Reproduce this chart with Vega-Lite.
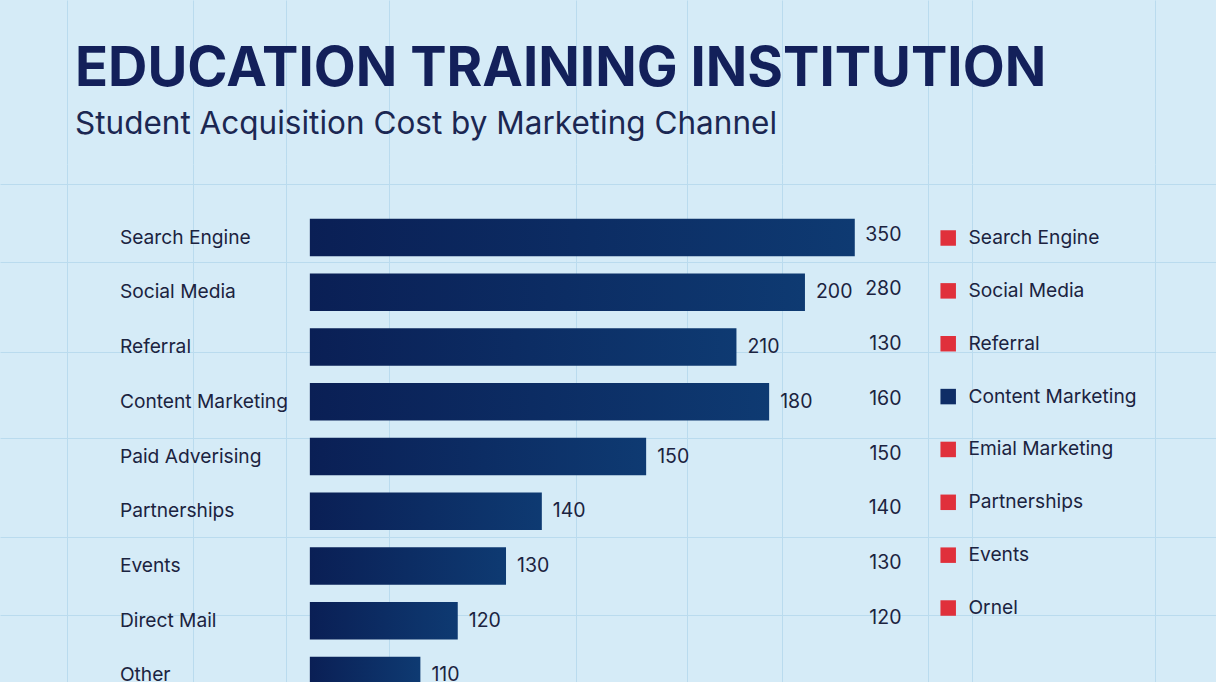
{
  "$schema": "https://vega.github.io/schema/vega-lite/v6.json",
  "width": 1216,
  "height": 585,
  "autosize": "none",
  "padding": {"left": 0, "top": 164, "right": 0, "bottom": 0},
  "background": "#d5ebf7",
  "config": {"view": {"stroke": null}, "font": "Inter"},
  "title": {
    "text": "EDUCATION TRAINING INSTITUTION",
    "subtitle": "Student Acquisition Cost by Marketing Channel",
    "anchor": "start",
    "dx": 75,
    "dy": 142,
    "offset": 0,
    "font": "Inter",
    "fontSize": 54.5,
    "fontWeight": "bold",
    "color": "#13205a",
    "subtitleFont": "Inter",
    "subtitleFontSize": 31.5,
    "subtitleColor": "#1b2752",
    "subtitlePadding": 12
  },
  "datasets": {
    "bars": [
      {"channel": "Search Engine", "length": 350, "label": null, "col": "350"},
      {"channel": "Social Media", "length": 318, "label": "200", "col": "280"},
      {"channel": "Referral", "length": 274, "label": "210", "col": "130"},
      {"channel": "Content Marketing", "length": 295, "label": "180", "col": "160"},
      {"channel": "Paid Adverising", "length": 216, "label": "150", "col": "150"},
      {"channel": "Partnerships", "length": 149, "label": "140", "col": "140"},
      {"channel": "Events", "length": 126, "label": "130", "col": "130"},
      {"channel": "Direct Mail", "length": 95, "label": "120", "col": "120"},
      {"channel": "Other", "length": 71, "label": "110", "col": null}
    ],
    "legend": [
      {"rank": 1, "entry": "Search Engine", "kind": "accent"},
      {"rank": 2, "entry": "Social Media", "kind": "accent"},
      {"rank": 3, "entry": "Referral", "kind": "accent"},
      {"rank": 4, "entry": "Content Marketing", "kind": "primary"},
      {"rank": 5, "entry": "Emial Marketing", "kind": "accent"},
      {"rank": 6, "entry": "Partnerships", "kind": "accent"},
      {"rank": 7, "entry": "Events", "kind": "accent"},
      {"rank": 8, "entry": "Ornel", "kind": "accent"}
    ]
  },
  "resolve": {"scale": {"y": "independent"}},
  "layer": [
    {
      "data": {"name": "bars"},
      "encoding": {
        "y": {
          "field": "channel",
          "type": "nominal",
          "sort": null,
          "axis": null,
          "scale": {"paddingInner": 0.314, "paddingOuter": 1, "round": false}
        }
      },
      "layer": [
        {
          "mark": {
            "type": "bar",
            "color": {
              "gradient": "linear",
              "x1": 0, "x2": 1, "y1": 0, "y2": 0,
              "stops": [
                {"offset": 0, "color": "#0a1f55"},
                {"offset": 1, "color": "#0e3a72"}
              ]
            }
          },
          "encoding": {
            "x": {
              "field": "length",
              "type": "quantitative",
              "scale": {"domain": [-199, 582], "nice": false, "zero": false},
              "axis": {
                "orient": "top",
                "values": [-156, -75, -15, 51, 171, 242, 303, 397, 425, 543],
                "grid": true,
                "gridColor": "#badbee",
                "gridWidth": 1,
                "domain": false,
                "ticks": true,
                "tickSize": 164,
                "tickColor": "#badbee",
                "tickWidth": 1,
                "labels": false,
                "title": null
              }
            }
          }
        },
        {
          "transform": [{"filter": "datum.label != null"}],
          "mark": {"type": "text", "align": "left", "baseline": "middle", "dx": 11, "fontSize": 19.5, "color": "#1b2340"},
          "encoding": {
            "x": {"field": "length", "type": "quantitative"},
            "text": {"field": "label"}
          }
        },
        {
          "transform": [{"filter": "datum.col != null"}],
          "mark": {"type": "text", "align": "right", "baseline": "middle", "dy": -3, "fontSize": 19.5, "color": "#1b2340"},
          "encoding": {
            "x": {"datum": 380},
            "text": {"field": "col"}
          }
        },
        {
          "mark": {"type": "text", "align": "left", "baseline": "middle", "fontSize": 19.2, "color": "#1b2340"},
          "encoding": {
            "x": {"datum": -122},
            "text": {"field": "channel"}
          }
        }
      ]
    },
    {
      "data": {"name": "legend"},
      "encoding": {
        "y": {
          "field": "rank",
          "type": "quantitative",
          "scale": {"domain": [-0.4, 10.667], "nice": false, "zero": false, "reverse": true},
          "axis": {
            "values": [-0.02, 1.454, 3.157, 4.784, 6.657, 8.132],
            "grid": true,
            "gridColor": "#badbee",
            "gridWidth": 1,
            "domain": false,
            "ticks": false,
            "labels": false,
            "title": null
          }
        }
      },
      "layer": [
        {
          "mark": {"type": "point", "shape": "square", "filled": true, "opacity": 1, "size": 240},
          "encoding": {
            "x": {"datum": 410},
            "color": {
              "field": "kind",
              "type": "nominal",
              "scale": {"domain": ["accent", "primary"], "range": ["#e0303b", "#0f2d66"]},
              "legend": null
            }
          }
        },
        {
          "mark": {"type": "text", "align": "left", "baseline": "middle", "fontSize": 19.2, "color": "#1b2340"},
          "encoding": {
            "x": {"datum": 423},
            "text": {"field": "entry"}
          }
        }
      ]
    }
  ]
}
